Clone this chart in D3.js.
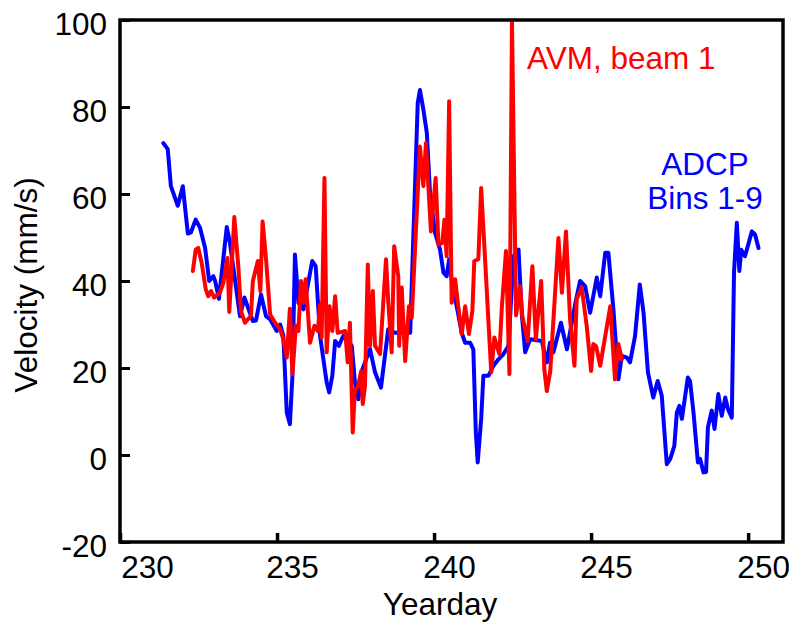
<!DOCTYPE html>
<html><head><meta charset="utf-8">
<script src="https://cdn.jsdelivr.net/npm/d3@7"></script>
<style>body{margin:0;background:#fff}svg{display:block}text{font-family:"Liberation Sans",Arial,sans-serif}</style>
</head><body>
<svg id="c" width="789" height="623"></svg>
<script>
const xTicks = [230, 235, 240, 245, 250];
const yTicks = [-20, 0, 20, 40, 60, 80, 100];
const adcpDay = [231.38,231.52,231.62,231.84,232.00,232.16,232.26,232.41,232.55,232.71,232.84,232.97,233.03,233.15,233.40,233.50,233.82,233.96,234.23,234.33,234.49,234.65,234.78,234.99,235.10,235.20,235.31,235.41,235.49,235.57,235.68,235.84,236.12,236.23,236.37,236.58,236.66,236.76,236.85,236.97,237.11,237.38,237.48,237.59,237.70,237.96,238.12,238.31,238.54,238.76,239.24,239.48,239.55,239.66,239.77,239.87,240.03,240.19,240.30,240.40,240.48,240.57,240.72,240.88,240.99,241.15,241.25,241.33,241.39,241.50,241.57,241.73,241.89,242.05,242.21,242.37,242.53,242.69,242.79,242.90,243.06,243.43,243.59,243.69,243.80,244.04,244.23,244.49,244.65,244.81,244.97,245.18,245.29,245.45,245.55,245.71,245.87,245.98,246.14,246.24,246.40,246.55,246.67,246.81,246.98,247.12,247.25,247.41,247.52,247.65,247.73,247.81,247.89,248.08,248.15,248.26,248.40,248.47,248.58,248.66,248.72,248.84,248.93,249.05,249.16,249.27,249.36,249.48,249.55,249.64,249.72,249.78,249.90,250.12,250.22,250.33];
const adcpVel = [71.7,70.3,61.8,57.3,61.8,50.9,51.2,54.1,52.2,47.6,40.0,41.1,40.0,35.9,52.4,48.8,31.9,36.2,30.8,30.9,36.9,31.9,31.2,28.5,30.0,27.4,9.8,7.1,18.2,46.1,35.0,33.5,44.6,43.4,27.4,16.7,14.4,18.2,26.2,25.1,27.4,25.1,16.7,12.8,19.3,24.4,19.0,15.5,28.9,28.1,28.1,80.9,83.9,79.4,74.0,60.3,51.1,47.2,41.9,41.1,45.0,39.7,34.2,28.1,25.8,25.8,24.3,5.2,-1.7,8.3,18.2,18.2,20.5,22.0,23.2,25.1,45.7,47.2,32.7,23.6,26.6,26.2,21.3,25.8,23.6,30.4,24.3,34.6,40.0,38.8,32.7,40.8,36.5,46.5,46.5,33.5,17.4,22.8,22.4,21.3,27.4,39.2,32.7,19.0,13.2,17.0,13.6,-2.1,-0.9,2.1,9.8,11.3,8.3,17.8,17.0,9.8,-1.7,-0.9,-4.0,-3.9,6.4,10.2,6.0,14.0,9.0,13.2,10.5,8.6,41.9,53.4,42.3,47.2,45.7,51.4,50.7,47.6];
const avmDay = [232.32,232.41,232.49,232.60,232.73,232.81,232.90,233.00,233.18,233.29,233.42,233.48,233.64,233.77,233.85,233.98,234.17,234.23,234.39,234.47,234.54,234.65,234.78,234.94,235.10,235.20,235.31,235.41,235.49,235.60,235.68,235.76,235.84,235.91,236.05,236.19,236.30,236.37,236.42,236.51,236.58,236.67,236.76,236.85,236.93,237.06,237.17,237.25,237.32,237.41,237.48,237.57,237.68,237.73,237.80,237.89,237.96,238.05,238.12,238.28,238.47,238.54,238.65,238.73,238.86,238.89,238.97,239.08,239.20,239.29,239.55,239.66,239.74,239.90,240.05,240.14,240.26,240.33,240.40,240.48,240.56,240.67,240.77,240.88,240.99,241.11,241.22,241.28,241.41,241.50,241.82,241.92,242.08,242.16,242.29,242.40,242.48,242.61,242.74,242.81,242.98,243.13,243.24,243.41,243.51,243.59,243.70,243.96,244.07,244.20,244.33,244.47,244.54,244.70,244.86,245.00,245.07,245.16,245.29,245.61,245.76,245.87,245.98];
const avmVel = [42.3,47.2,47.6,44.2,38.1,36.5,37.7,36.2,37.3,39.6,45.3,32.9,54.7,43.0,33.1,30.4,32.0,40.0,44.6,37.7,53.7,45.0,32.3,30.4,28.9,26.6,22.4,33.6,18.6,29.7,28.5,40.0,35.0,40.4,25.8,29.7,28.5,34.6,27.0,63.7,23.6,34.2,28.5,36.5,28.1,28.3,28.5,21.3,30.4,5.2,15.1,15.6,19.3,11.7,15.9,43.8,25.1,37.7,25.1,23.2,45.0,35.4,23.6,48.0,41.1,25.1,38.5,21.6,34.2,31.6,70.9,61.8,71.7,51.4,63.7,48.4,48.7,54.1,45.7,81.3,35.0,40.4,34.2,27.8,34.2,27.8,33.1,44.6,45.0,61.4,19.0,27.0,23.2,34.2,46.9,18.6,100,32.1,38.8,31.9,26.2,43.4,26.6,40.0,19.7,14.7,19.3,49.9,37.3,51.4,31.2,20.5,35.8,38.5,29.7,19.3,25.5,25.0,20.5,34.2,17.4,25.5,22.0];

const svg = d3.select("#c");
const L = 120, R = 783, T = 20, B = 542;
const x = d3.scaleLinear().domain([230, 251.11]).range([L, R]);
const y = d3.scaleLinear().domain([-20, 100]).range([B, T]);
const FS = 31.5;

const clip = svg.append("clipPath").attr("id","clp").append("rect")
  .attr("x", L).attr("y", T).attr("width", R - L).attr("height", B - T);

const line = d3.line().x(d => x(d[0])).y(d => y(d[1]));
const adcp = adcpDay.map((d, i) => [d, adcpVel[i]]);
const avm = avmDay.map((d, i) => [d, avmVel[i]]);

const g = svg.append("g").attr("clip-path", "url(#clp)");
g.append("path").datum(adcp).attr("d", line).attr("fill","none")
  .attr("stroke","#0000ff").attr("stroke-width",4).attr("stroke-linejoin","round").attr("stroke-linecap","round");
g.append("path").datum(avm).attr("d", line).attr("fill","none")
  .attr("stroke","#ff0000").attr("stroke-width",4).attr("stroke-linejoin","round").attr("stroke-linecap","round");

// axes
const yAxis = svg.append("g").attr("transform", `translate(${L},0)`)
  .call(d3.axisLeft(y).tickValues(yTicks).tickFormat(d => String(d)).tickSizeInner(-10).tickSizeOuter(0).tickPadding(13));
yAxis.select(".domain").remove();
yAxis.selectAll(".tick line").attr("stroke","#000").attr("stroke-width",3);
yAxis.selectAll(".tick text").attr("fill","#000").attr("font-size",FS).attr("dy","0.45em")
  .style("font-family",'"Liberation Sans",Arial,sans-serif');

const xAxis = svg.append("g").attr("transform", `translate(0,${B})`)
  .call(d3.axisBottom(x).tickValues(xTicks).tickFormat(d => String(d)).tickSizeInner(-9).tickSizeOuter(0).tickPadding(0));
xAxis.select(".domain").remove();
xAxis.selectAll(".tick line").attr("stroke","#000").attr("stroke-width",3.5);
xAxis.selectAll(".tick text").attr("fill","#000").attr("font-size",FS)
  .attr("y", 36).attr("dy", 0).attr("dx", d => d === 230 ? 27 : 15)
  .style("font-family",'"Liberation Sans",Arial,sans-serif');

svg.append("rect").attr("x", L).attr("y", T).attr("width", R - L).attr("height", B - T)
  .attr("fill","none").attr("stroke","#000").attr("stroke-width",3.5);

svg.append("text").attr("x", 440).attr("y", 615).attr("text-anchor","middle")
  .attr("font-size",FS).attr("fill","#000").text("Yearday");
svg.append("text").attr("transform","translate(37,285) rotate(-90)").attr("text-anchor","middle")
  .attr("font-size",FS).attr("fill","#000").text("Velocity (mm/s)");

svg.append("text").attr("x", 527).attr("y", 69).attr("font-size",FS).attr("fill","#ff0000").text("AVM, beam 1");
svg.append("text").attr("x", 705).attr("y", 175).attr("text-anchor","middle").attr("font-size",FS).attr("fill","#0000ff").text("ADCP");
svg.append("text").attr("x", 705).attr("y", 209).attr("text-anchor","middle").attr("font-size",FS).attr("fill","#0000ff").text("Bins 1-9");
</script>
</body></html>
